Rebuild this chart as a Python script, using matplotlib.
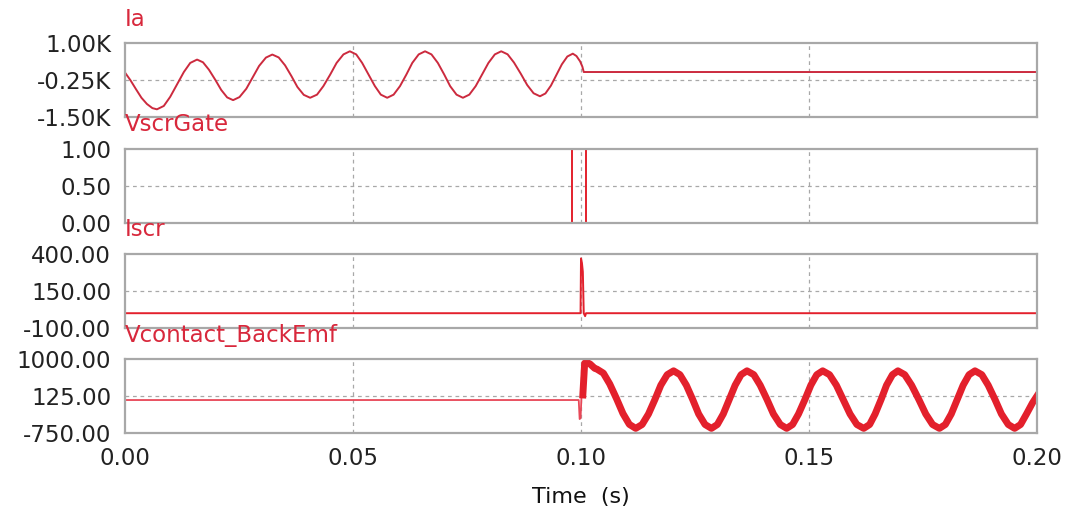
import matplotlib
matplotlib.use("Agg")
import matplotlib.pyplot as plt

# Ia (A) - source current, drops to ~0 after 0.1 s
t_ia = [0, .0012, .0024, .0036, .0048, .0060, .0070,
        .0085, .0099, .0114, .0129, .0143, .0158,
        .0171, .0184, .0198, .0211, .0224, .0237,
        .0251, .0266, .0280, .0294, .0309, .0323,
        .0337, .0351, .0365, .0378, .0392, .0406,
        .0421, .0435, .0450, .0464, .0479, .0493,
        .0507, .0520, .0534, .0548, .0561, .0575,
        .0589, .0603, .0617, .0630, .0644, .0658,
        .0672, .0686, .0700, .0713, .0727, .0741,
        .0755, .0769, .0783, .0797, .0811, .0825,
        .0839, .0853, .0868, .0882, .0896, .0910,
        .0922, .0934, .0946, .0958, .0970, .0982,
        .0990, .0998, .1003, .1006, .2000]
ia = [0, -260, -560, -850, -1060, -1200, -1240,
      -1127, -820, -400, 20, 327, 440,
      348, 98, -245, -587, -838, -930,
      -827, -545, -160, 225, 507, 610,
      512, 245, -120, -485, -752, -850,
      -745, -457, -65, 328, 615, 720,
      615, 328, -65, -457, -745, -850,
      -745, -457, -65, 328, 615, 720,
      615, 328, -65, -457, -745, -850,
      -745, -457, -65, 328, 615, 720,
      618, 340, -40, -420, -698, -800,
      -704, -440, -80, 280, 544, 640,
      560, 380, 200, 20, 20]

# VscrGate
t_gate = [0, .0980, .0980, .1011, .1011, .2000]
gate = [0, 0, 1, 1, 0, 0]

# Iscr
t_iscr = [0, .0999, .1000, .1002, .1004, .1006, .1009, .1011, .2000]
iscr = [0, 0, 370, 340, 280, 0, -20, 0, 0]

# Vcontact_BackEmf, before and after the contact opens
t_vc_pre = [0, .0995, .0997, .0999, .1001, .1004]
vc_pre = [30, 30, -420, -400, 100, 150]
t_vc_post = [.1004, .1008, .1013, .1020, .1030, .1035,
             .1049, .1063, .1078, .1092, .1106, .1120,
             .1134, .1148, .1162, .1175, .1189, .1203,
             .1217, .1231, .1245, .1258, .1272, .1286,
             .1299, .1312, .1325, .1338, .1351, .1364,
             .1379, .1393, .1408, .1422, .1437, .1451,
             .1464, .1477, .1491, .1504, .1517, .1530,
             .1545, .1560, .1575, .1590, .1605, .1620,
             .1633, .1645, .1658, .1670, .1683, .1695,
             .1710, .1725, .1741, .1756, .1771, .1786,
             .1799, .1812, .1825, .1838, .1851, .1864,
             .1879, .1893, .1908, .1922, .1937, .1951,
             .1964, .1977, .1990, .2000]
vc_post = [150, 900, 920, 880, 780, 760,
           666, 410, 60, -290, -546, -640,
           -549, -300, 40, 380, 629, 720,
           629, 380, 40, -300, -549, -640,
           -549, -300, 40, 380, 629, 720,
           629, 380, 40, -300, -549, -640,
           -549, -300, 40, 380, 629, 720,
           629, 380, 40, -300, -549, -640,
           -549, -300, 40, 380, 629, 720,
           629, 380, 40, -300, -549, -640,
           -549, -300, 40, 380, 629, 720,
           629, 380, 40, -300, -549, -640,
           -549, -300, -40, 125]

x_ticks = [0.0, 0.05, 0.10, 0.15, 0.20]
x_labels = ["0.00", "0.05", "0.10", "0.15", "0.20"]

panels = [
    ("Ia", [-1500, -250, 1000], ["-1.50K", "-0.25K", "1.00K"]),
    ("VscrGate", [0, 0.5, 1.0], ["0.00", "0.50", "1.00"]),
    ("Iscr", [-100, 150, 400], ["-100.00", "150.00", "400.00"]),
    ("Vcontact_BackEmf", [-750, 125, 1000], ["-750.00", "125.00", "1000.00"]),
]

red = "#e3202c"
label_red = "#d8283c"
grid_col = "#a8a8a8"

fig = plt.figure(figsize=(10.65, 5.15), dpi=100)
plt.rcParams["font.family"] = ["DejaVu Sans"]

# axes boxes in figure fractions (left, bottom, width, height)
left, width = 0.1174, 0.8563
bottoms = [0.7728, 0.5670, 0.3631, 0.1592]
height = 0.1437

axes = []
for i, (name, yt, yl) in enumerate(panels):
    ax = fig.add_axes([left, bottoms[i], width, height])
    ax.set_xlim(0, 0.2)
    ax.set_ylim(yt[0], yt[-1])
    ax.set_yticks(yt)
    ax.set_yticklabels(yl)
    ax.set_xticks(x_ticks)
    if i == 3:
        ax.set_xticklabels(x_labels)
    else:
        ax.set_xticklabels([])
    ax.tick_params(length=0, labelsize=16.5, colors="#222222", pad=10)
    for s in ax.spines.values():
        s.set_color(grid_col)
        s.set_linewidth(1.6)
        s.set_zorder(4)
    ax.axhline(yt[1], color=grid_col, lw=0.9, ls=(0, (3, 3)), zorder=1)
    for xv in [0.05, 0.10, 0.15]:
        ax.axvline(xv, color=grid_col, lw=0.9, ls=(0, (3, 3)), zorder=1)
    ax.annotate(name, xy=(0, 1), xycoords="axes fraction",
                xytext=(0, 9), textcoords="offset points",
                ha="left", va="bottom", fontsize=16.5, color=label_red)
    axes.append(ax)

axes[0].plot(t_ia, ia, color="#cc2a3e", lw=1.4, zorder=3)
axes[1].plot(t_gate, gate, color=red, lw=1.4, zorder=3)
axes[2].plot(t_iscr, iscr, color=red, lw=1.4, zorder=3)
axes[3].plot(t_vc_pre, vc_pre, color="#e84858", lw=1.3, zorder=3)
axes[3].plot(t_vc_post, vc_post, color=red, lw=5, zorder=3,
             solid_joinstyle="round")

axes[3].set_xlabel("Time  (s)", fontsize=16, color="#111111", labelpad=12)

fig.savefig("out.png", dpi=100, facecolor="white")
